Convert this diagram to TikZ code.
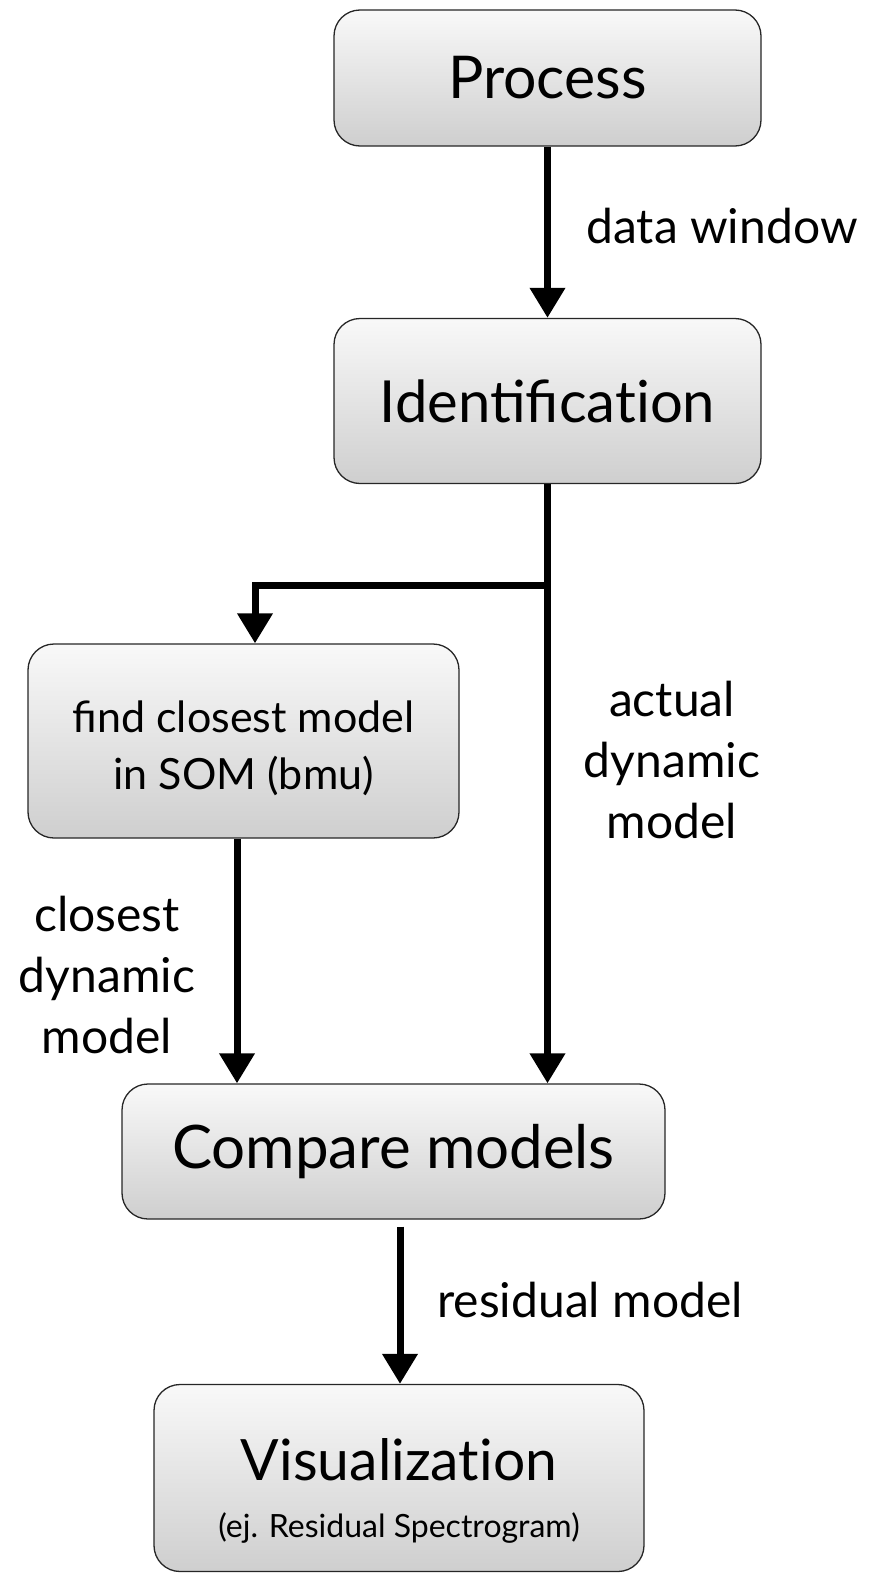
\documentclass[tikz,border=0pt]{standalone}
\usepackage{fontspec}
\setmainfont{Lato}
\usetikzlibrary{arrows.meta}
\begin{document}
\begin{tikzpicture}[x=1pt,y=-1pt,
  box/.style={draw=black!85, line width=1.3pt, rounded corners=26pt, top color=gray!5, bottom color=gray!38, inner sep=0pt, align=center},
  flow/.style={line width=7pt, -{Triangle[width=34pt,length=30pt]}},
  lab/.style={align=center, inner sep=0pt, font=\fontsize{48}{61}\selectfont}]
\useasboundingbox (0,0) rectangle (869,1574);
\node[box, minimum width=427pt, minimum height=136pt, font=\fontsize{59}{60}\selectfont] (process) at (547.5,78) {Process};
\node[box, minimum width=427pt, minimum height=165pt, font=\fontsize{58}{60}\selectfont] (ident) at (547.5,401) {Identificat\kern0pt ion};
\node[box, minimum width=431pt, minimum height=194pt] (find) at (243.5,741) {};
\node[align=center, inner sep=0pt, font=\fontsize{43}{57}\selectfont] (findt) at (243.5,748) {find closest model\\in SOM (bmu)};
\node[box, minimum width=543pt, minimum height=135pt, font=\fontsize{60}{62}\selectfont] (compare) at (393.5,1151.5) {Compare models};
\node[box, minimum width=490pt, minimum height=187pt] (vis) at (399,1478) {};
\node[anchor=base, inner sep=0pt, font=\fontsize{57}{60}\selectfont] (vist) at (399,1480) {Visualizat\kern0pt ion};
\node[anchor=base, inner sep=0pt, font=\fontsize{32}{34}\selectfont] (viss) at (399,1537) {(ej. Residual Spectrogram)};
\coordinate (br) at (547.5,585);
\draw[flow] (process.south) -- (ident.north);
\draw[flow] (ident.south) -- (ident.south |- compare.north);
\draw[flow] (br) -| ([xshift=11.5pt]find.north);
\draw[flow] ([xshift=-6.5pt]find.south) -- ([xshift=-6.5pt]find.south |- compare.north);
\draw[flow] ([xshift=6.5pt,yshift=-7pt]compare.south) -- ([xshift=1pt]vis.north);
\node[lab] (l1) at (722,226) {data window};
\node[lab] (l2) at (672,760) {actual\\dynamic\\model};
\node[lab] (l3) at (107,975) {closest\\dynamic\\model};
\node[lab] (l4) at (590,1300) {residual model};
\end{tikzpicture}
\end{document}
